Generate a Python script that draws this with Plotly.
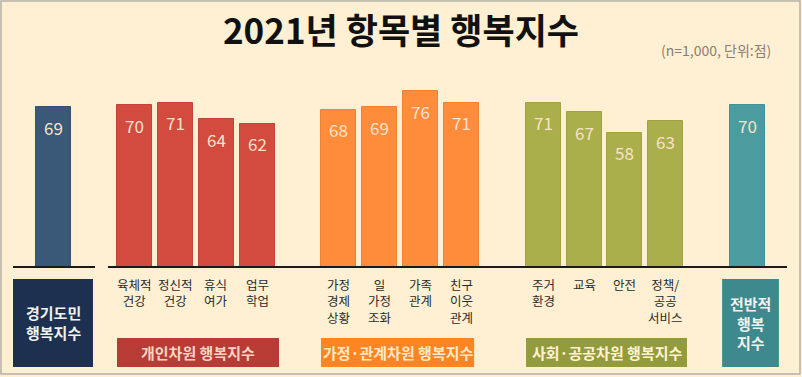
import plotly.graph_objects as go

# ---- data ----
positions = [0, 2, 3, 4, 5, 7, 8, 9, 10, 12, 13, 14, 15, 17]
values = [69, 70, 71, 64, 62, 68, 69, 76, 71, 71, 67, 58, 63, 70]
groups = ["total", "personal", "personal", "personal", "personal",
          "family", "family", "family", "family",
          "social", "social", "social", "social", "overall"]
tick_pos = [2, 3, 4, 5, 7, 8, 9, 10, 12, 13, 14, 15]
tick_labels = ["육체적<br>건강", "정신적<br>건강", "휴식<br>여가", "업무<br>학업",
               "가정<br>경제<br>상황", "일<br>가정<br>조화", "가족<br>관계", "친구<br>이웃<br>관계",
               "주거<br>환경", "교육", "안전", "정책/<br>공공<br>서비스"]
group_names = ["개인차원 행복지수", "가정·관계차원 행복지수", "사회·공공차원 행복지수"]
group_spans = [(1.567, 5.533), (6.56, 10.31), (11.58, 15.52)]
side_names = ["경기도민<br>행복지수", "전반적<br>행복<br>지수"]
side_spans = [(-0.979, 0.979), (16.38, 17.77)]
title = "2021년 항목별 행복지수"
note = "(n=1,000, 단위:점)"

FONT = "Noto Sans CJK KR"
bar_colors = {"total": "#3A5878", "personal": "#D34A3F", "family": "#FF8C3B",
              "social": "#AAAE4B", "overall": "#4B9C9E"}
bar_lines = {"total": "#34506E", "personal": "#C0443A", "family": "#F08236",
             "social": "#9EA245", "overall": "#459294"}
group_box_colors = ["#B83C35", "#FF8524", "#939C3C"]
group_text_colors = ["#F7D4C4", "#FFE8C8", "#FFF2D4"]
side_box_colors = ["#1D3050", "#3E898D"]

fig = go.Figure()
fig.add_trace(go.Bar(
    x=positions, y=values, width=0.857,
    marker=dict(color=[bar_colors[g] for g in groups],
                line=dict(color=[bar_lines[g] for g in groups], width=1)),
    hoverinfo="skip",
))

annotations = []
for p, v in zip(positions, values):
    annotations.append(dict(x=p, y=v, xref="x", yref="y", text=str(v), showarrow=False,
                            yshift=-20, font=dict(family=FONT, size=17, color="#F8E2CC")))
for p, t in zip(tick_pos, tick_labels):
    annotations.append(dict(x=p, y=-0.03, xref="x", yref="paper", text=t, showarrow=False,
                            yanchor="top", font=dict(family=FONT, size=12.5, color="#2A2A2A")))

shapes = []
# baseline segments
for x0, x1 in [(-0.979, 1.028), (1.346, 17.968)]:
    shapes.append(dict(type="line", xref="x", yref="paper", x0=x0, x1=x1, y0=0, y1=0,
                       line=dict(color="#1A1A1A", width=2)))
for (x0, x1), name, c, tc in zip(group_spans, group_names, group_box_colors, group_text_colors):
    shapes.append(dict(type="rect", xref="x", yref="paper", x0=x0, x1=x1, y0=-0.5405, y1=-0.3838,
                       fillcolor=c, line=dict(width=0)))
    annotations.append(dict(x=(x0 + x1) / 2, y=-0.462, xref="x", yref="paper", text="<b>" + name + "</b>",
                            showarrow=False, yanchor="middle",
                            font=dict(family=FONT, size=15, color=tc)))
for (x0, x1), name, c in zip(side_spans, side_names, side_box_colors):
    shapes.append(dict(type="rect", xref="x", yref="paper", x0=x0, x1=x1, y0=-0.5405, y1=-0.0649,
                       fillcolor=c, line=dict(width=0)))
    annotations.append(dict(x=(x0 + x1) / 2, y=-0.30, xref="x", yref="paper", text="<b>" + name + "</b>",
                            showarrow=False, yanchor="middle",
                            font=dict(family=FONT, size=15, color="#F2F2EE")))
# frame
shapes.append(dict(type="rect", xref="paper", yref="paper", x0=0.00125, x1=0.9975, y0=-0.5784, y1=1.4378,
                   line=dict(color="#B4B0A8", width=1.5), fillcolor="rgba(0,0,0,0)", layer="above"))

annotations.append(dict(x=773 / 802, y=(267 - 50) / 185, xref="paper", yref="paper", text=note,
                        showarrow=False, xanchor="right", yanchor="middle",
                        font=dict(family=FONT, size=14, color="#8C7E70")))

fig.update_layout(
    width=802, height=377,
    margin=dict(l=0, r=0, t=82, b=110, pad=0),
    paper_bgcolor="#FFF0D3", plot_bgcolor="#FFF0D3",
    showlegend=False,
    title=dict(text="<b>" + title + "</b>", x=0.5, xanchor="center", y=1 - 32 / 377, yanchor="middle",
               font=dict(family=FONT, size=35, color="#111111")),
    xaxis=dict(range=[-53 / 40.85, (802 - 53) / 40.85], showgrid=False, zeroline=False,
               showticklabels=False, showline=False, fixedrange=True),
    yaxis=dict(range=[0, 80], showgrid=False, zeroline=False, showticklabels=False,
               showline=False, fixedrange=True),
    shapes=shapes, annotations=annotations,
    bargap=0,
)

fig.write_html("out.html", config={"displayModeBar": False},
               post_script="document.body.style.margin='0';document.body.style.overflow='hidden';")
